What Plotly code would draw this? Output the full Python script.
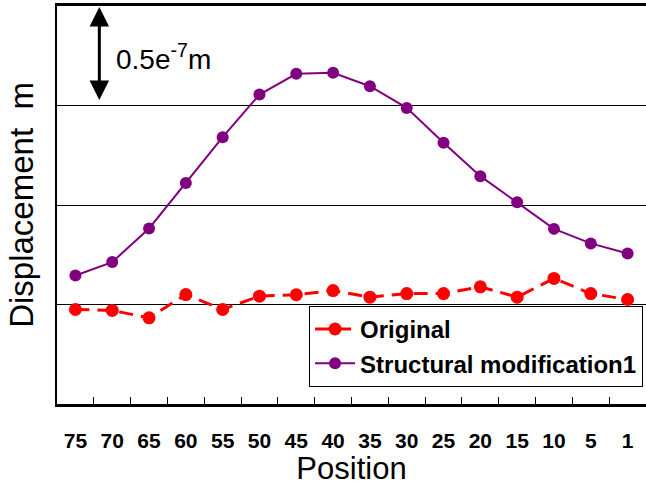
import plotly.graph_objects as go

positions = ["75", "70", "65", "60", "55", "50", "45", "40", "35", "30", "25", "20", "15", "10", "5", "1"]
# displacement in units of 1e-7 m
original = [-0.025, -0.030, -0.067, 0.050, -0.025, 0.042, 0.049, 0.070, 0.037, 0.055, 0.055, 0.089, 0.037, 0.131, 0.055, 0.025]
modification1 = [0.146, 0.213, 0.382, 0.610, 0.841, 1.055, 1.159, 1.164, 1.097, 0.988, 0.813, 0.645, 0.514, 0.380, 0.307, 0.256]

fig = go.Figure()
fig.add_trace(go.Scatter(
    x=positions, y=original, name="Original", mode="lines+markers",
    line=dict(color="#FF0000", width=3, dash="14px,8px"),
    marker=dict(color="#FF0000", size=13),
))
fig.add_trace(go.Scatter(
    x=positions, y=modification1, name="Structural modification1", mode="lines+markers",
    line=dict(color="#800080", width=2),
    marker=dict(color="#800080", size=12),
))

fig.add_annotation(
    x=0.65, y=1.5, ax=0.65, ay=1.0, xref="x", yref="y", axref="x", ayref="y",
    text="", showarrow=True, arrowhead=2, arrowside="end+start",
    arrowsize=1.3, arrowwidth=3, arrowcolor="black", standoff=1, startstandoff=4,
)
fig.add_annotation(
    x=1.06, y=1.246, xref="x", yref="y", xanchor="left", yanchor="middle",
    text="0.5e<sup>-7</sup>m", showarrow=False,
    font=dict(family="Liberation Sans, Arial", size=28, color="black"),
)

fig.update_layout(
    width=646, height=486,
    margin=dict(l=57, r=0, t=6, b=82),
    paper_bgcolor="white", plot_bgcolor="white",
    showlegend=True,
    legend=dict(
        x=0.995, y=0.043, xanchor="right", yanchor="bottom",
        bordercolor="black", borderwidth=1, bgcolor="white",
        font=dict(family="Liberation Sans, Arial", size=24, color="black", weight="bold"),
        tracegroupgap=0, itemwidth=40,
    ),
    xaxis=dict(
        type="category", showline=True, linecolor="black", linewidth=3, mirror=True,
        ticks="inside", tickson="boundaries", ticklen=7, tickcolor="black", tickwidth=1,
        showgrid=False, zeroline=False,
        tickfont=dict(family="Liberation Sans, Arial", size=21, color="black", weight="bold"),
        ticklabelstandoff=16,
        title=dict(text="Position", font=dict(family="Liberation Sans, Arial", size=31, color="black"), standoff=3),
        range=[-0.5, 15.5],
    ),
    yaxis=dict(
        range=[-0.5, 1.5], dtick=0.5, tick0=0, showticklabels=False, ticks="",
        showline=True, linecolor="black", linewidth=2,
        showgrid=True, gridcolor="black", gridwidth=1, zeroline=False,
        title=dict(text="Displacement  m", font=dict(family="Liberation Sans, Arial", size=33, color="black"), standoff=11),
    ),
)

fig.write_html(
    "out.html",
    config={"displayModeBar": False},
    post_script="document.body.style.margin='0';document.body.style.overflow='hidden';",
)
